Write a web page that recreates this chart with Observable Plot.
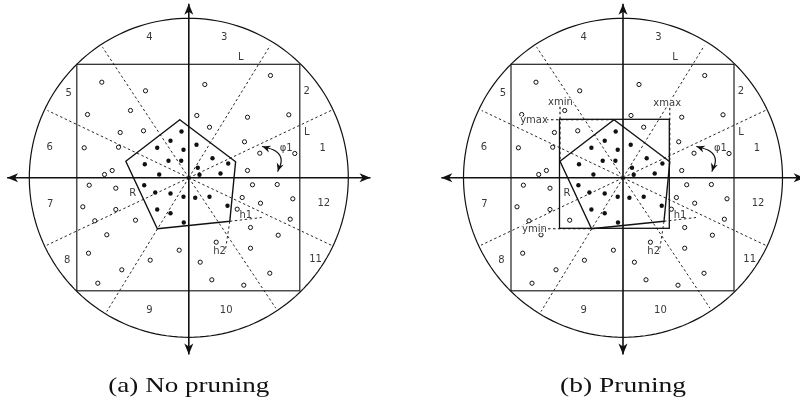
<!DOCTYPE html>
<html><head><meta charset="utf-8">
<script src="https://cdn.jsdelivr.net/npm/d3@7"></script>
<script src="https://cdn.jsdelivr.net/npm/@observablehq/plot@0.6"></script>
<style>body{margin:0;background:#fff} svg{display:block; filter: grayscale(1);}</style>
</head><body><div id="chart"></div>
<script>
// ---------- data (units: px relative to each panel's centre, y up) ----------
const captions = ["(a) No pruning", "(b) Pruning"];
const panelOffset = [0, 434.2];
const circleRadius = 159.5;
const squareX = [-111.5, 111.5];
const squareY = [-113.5, 113];
const axisTips = [ // x, y, direction
  [-181.7, 0, 270], [181.7, 0, 90], [0, 174, 0], [0, -176.7, 180]
];
const sectorEnds = [
  [81.4,132.3],[143.7,68],[-86.3,130.6],[-141.3,67.3],
  [-142,-67.4],[-82,-133.7],[143.7,-68],[87,-130.4]
];
const sectorLabels = ["1","2","3","4","5","6","7","8","9","10","11","12"];
const sectorLabelX = [134,118,35.4,-39.3,-120,-139,-138.6,-121.6,-39.3,37.4,126.7,135];
const sectorLabelY = [29.6,86.6,140.6,141.3,85.3,31.3,-26.4,-82,-132,-132,-81.4,-25.4];
const pentagon = [[-9,58],[46.8,16],[41,-43.5],[-31.5,-51],[-63,16.5]];
const hollowPts = [
  [-87,95.6],[-43.3,87],[-101.3,63.3],[-58.3,67.3],[-68.6,45.3],[-45.3,47],[-104.6,30],[-70.3,30.6],[-84.3,3.3],[-76.6,7.3],
  [81.7,102.3],[16,93.3],[8,62.3],[58.7,60.6],[100,63],[20.7,50.6],[55.7,36],[71,24.6],[106,24.3],[58.7,7.3],
  [-99.6,-7.4],[-73,-10.4],[-106,-29],[-73,-31.7],[-94,-43],[-53.3,-42.4],[-82,-57],[-100.3,-75.4],[-38.6,-82.4],[-67,-92],[-91,-105.4],[-9.6,-72.4],
  [63.7,-7],[88.4,-6.7],[53.4,-19.7],[71.7,-25.4],[104,-21],[48.4,-31.4],[101.4,-41.4],[61.7,-49.7],[89.4,-57.4],[27.4,-64.4],[61.7,-70.4],[11.4,-84.4],[81,-95.4],[23,-102],[55,-107.4]
];
const filledPts = [
  [-7.3,46.3],[-18.3,37],[-31.6,30],[-5.3,28],[-20.3,17],[-7.6,17],[-44,13.6],[-29.6,3.3],
  [7.7,33],[23.7,19.6],[39.4,14.3],[9,10],[31.7,4.3],[10.7,3],
  [-44.6,-7.4],[-33.6,-14.7],[-18.3,-15.7],[-5.3,-19],[-31.6,-31.7],[-18.3,-35.4],[-5,-44.7],
  [6.4,-20],[20.7,-19],[38.7,-28]
];
const h1Line = [[41,-43.5],[73,-39.7]];
const h2Line = [[41,-43.5],[36.4,-73.7]];
const phiArc = [[73.7,31.3],[87,26.6],[92.4,17.3],[89,6.6]];
const otherLabels = ["L","L","R","h1","h2","φ1"];
const otherLabelX = [52,118,-56,57,30.7,97.4];
const otherLabelY = [120.6,46.3,-15.2,-37.4,-73,30];
const pruneLabels = ["xmin","xmax","ymax","ymin"];
const pruneLabelX = [-62.5,44.2,-89,-88.5];
const pruneLabelY = [76.3,75,58,-50.7];
const pruneGuides = [ // from label to pentagon extreme vertex
  [[-63,71],[-63,16.5]], [[46.8,70],[46.8,16]], [[-77,58],[-9,58]], [[-80,-51],[-31.5,-51]]
];
const captionY = -207.7;

// ---------- build rows ----------
const both = (fn) => panelOffset.flatMap((o, p) => fn(o, p));
const circleRows = both((o, p) => d3.range(0, 361, 2).map(a => ({p, x: o + circleRadius*Math.cos(a*Math.PI/180), y: circleRadius*Math.sin(a*Math.PI/180)})));
const squareRows = both(o => [{x1: o+squareX[0], x2: o+squareX[1], y1: squareY[0], y2: squareY[1]}]);
const axisRows = both(o => [
  {x1: o+axisTips[0][0], y1: 0, x2: o+axisTips[1][0], y2: 0},
  {x1: o, y1: axisTips[2][1], x2: o, y2: axisTips[3][1]}
]);
const tipRows = both(o => axisTips.map(([x,y,r]) => ({x: o+x, y, r})));
const sectorRows = both(o => sectorEnds.map(([x,y]) => ({x1: o, y1: 0, x2: o+x, y2: y})));
const sectorLabelRows = both(o => sectorLabels.map((t,i) => ({t, x: o+sectorLabelX[i], y: sectorLabelY[i]})));
const pentRows = both((o,p) => [...pentagon, pentagon[0]].map(([x,y]) => ({p, x: o+x, y})));
const hollowRows = both(o => hollowPts.map(([x,y]) => ({x: o+x, y})));
const filledRows = both(o => filledPts.map(([x,y]) => ({x: o+x, y})));
const hRows = both(o => [h1Line, h2Line].map(([a,b]) => ({x1: o+a[0], y1: a[1], x2: o+b[0], y2: b[1]})));
const phiRows = both((o,p) => phiArc.map(([x,y]) => ({p, x: o+x, y})));
// arrowheads at both ends of the φ1 arc, oriented along the end segments
const headAngle = (a, b) => Math.atan2(b[0]-a[0], b[1]-a[1]) * 180 / Math.PI; // clockwise from "up" (y up data)
const n = phiArc.length;
const phiHeads = both(o => [
  {x: o+phiArc[0][0], y: phiArc[0][1], r: headAngle(phiArc[1], phiArc[0])},
  {x: o+phiArc[n-1][0], y: phiArc[n-1][1], r: headAngle(phiArc[n-2], phiArc[n-1])}
]);
const otherRows = both(o => otherLabels.map((t,i) => ({t, x: o+otherLabelX[i], y: otherLabelY[i]})));
const capRows = captions.map((t,i) => ({t, x: panelOffset[i], y: captionY}));
// pruning panel only
const po = panelOffset[1];
const xs = pentagon.map(d => d[0]), ys = pentagon.map(d => d[1]);
const boxRows = [{x1: po+d3.min(xs), x2: po+d3.max(xs), y1: d3.min(ys), y2: d3.max(ys)}];
const pruneLabelRows = pruneLabels.map((t,i) => ({t, x: po+pruneLabelX[i], y: pruneLabelY[i]}));
const guideRows = pruneGuides.map(([a,b]) => ({x1: po+a[0], y1: a[1], x2: po+b[0], y2: b[1]}));

const stealth = { draw(ctx) { ctx.moveTo(0,0); ctx.lineTo(-4.5,11); ctx.lineTo(0,8); ctx.lineTo(4.5,11); ctx.closePath(); } };
const stealthSmall = { draw(ctx) { ctx.moveTo(0,0); ctx.lineTo(-3.6,8); ctx.lineTo(0,5.5); ctx.lineTo(3.6,8); ctx.closePath(); } };
const ink = "#111", dash = "2.5,2.5", lab = "#3a3a3a";

const chart = Plot.plot({
  width: 800, height: 399,
  margin: 0,
  x: {domain: [-188.3, 611.7], range: [0, 800], axis: null},
  y: {domain: [-221.7, 177.3], range: [399, 0], axis: null},
  marks: [
    Plot.line(circleRows, {x: "x", y: "y", z: "p", stroke: ink, strokeWidth: 1.2}),
    Plot.rect(squareRows, {x1: "x1", x2: "x2", y1: "y1", y2: "y2", fill: "none", stroke: "#222", strokeWidth: 1.2}),
    Plot.link(sectorRows, {x1: "x1", y1: "y1", x2: "x2", y2: "y2", stroke: ink, strokeWidth: 0.9, strokeDasharray: dash}),
    Plot.link(hRows, {x1: "x1", y1: "y1", x2: "x2", y2: "y2", stroke: ink, strokeWidth: 0.9, strokeDasharray: dash}),
    Plot.rect(boxRows, {x1: "x1", x2: "x2", y1: "y1", y2: "y2", fill: "none", stroke: ink, strokeWidth: 1.3}),
    Plot.link(guideRows, {x1: "x1", y1: "y1", x2: "x2", y2: "y2", stroke: ink, strokeWidth: 1.1, strokeDasharray: dash}),
    Plot.line(pentRows, {x: "x", y: "y", z: "p", stroke: ink, strokeWidth: 1.4}),
    Plot.link(axisRows, {x1: "x1", y1: "y1", x2: "x2", y2: "y2", stroke: ink, strokeWidth: 1.6}),
    Plot.dot(tipRows, {x: "x", y: "y", rotate: "r", symbol: stealth, fill: ink, stroke: "none"}),
    Plot.dot(hollowRows, {x: "x", y: "y", r: 2.1, fill: "white", stroke: ink, strokeWidth: 1}),
    Plot.dot(filledRows, {x: "x", y: "y", r: 2.2, fill: ink}),
    Plot.line(phiRows, {x: "x", y: "y", z: "p", curve: "natural", stroke: ink, strokeWidth: 1.2}),
    Plot.dot(phiHeads, {x: "x", y: "y", rotate: "r", symbol: stealthSmall, fill: ink, stroke: "none"}),
    Plot.text(sectorLabelRows, {x: "x", y: "y", text: "t", fontFamily: "DejaVu Sans", fontSize: 10, fill: lab}),
    Plot.text(otherRows, {x: "x", y: "y", text: "t", fontFamily: "DejaVu Sans", fontSize: 10, fill: lab}),
    Plot.text(pruneLabelRows, {x: "x", y: "y", text: "t", fontFamily: "DejaVu Sans", fontSize: 10, fill: lab, stroke: "white", strokeWidth: 2}),
    Plot.text(capRows, {x: "x", y: "y", text: "t", fontFamily: "Liberation Serif", fontSize: 21, fill: "#111", className: "caption"})
  ]
});
// widen the captions to the reference's Computer Modern width
const capWidths = [161, 126];
d3.select(chart).selectAll(".caption text").attr("textLength", (d, i) => capWidths[i]).attr("lengthAdjust", "spacingAndGlyphs");
document.getElementById("chart").appendChild(chart);
</script>
</body></html>
